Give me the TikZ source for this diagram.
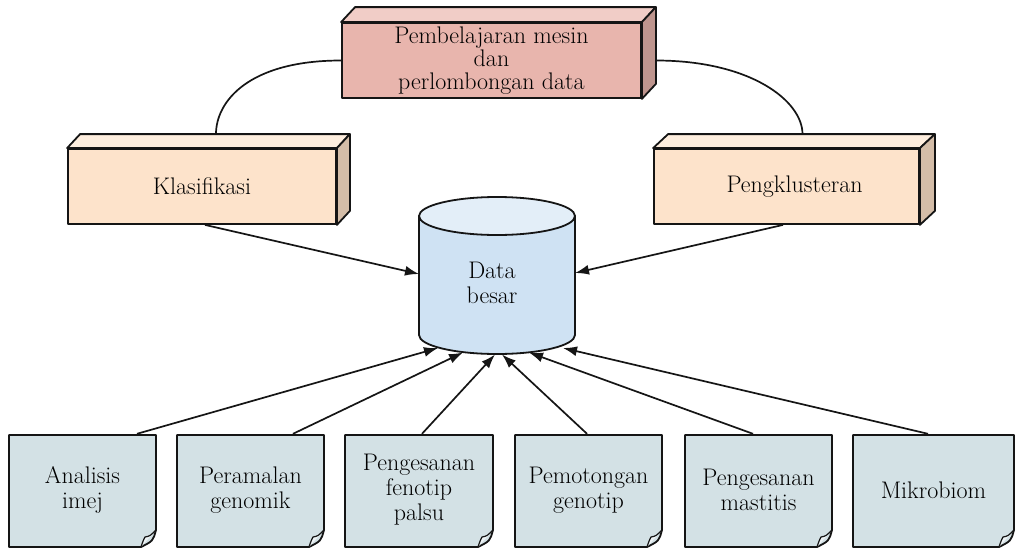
\documentclass[tikz,border=0pt]{standalone}
\usetikzlibrary{arrows.meta}
\definecolor{pinkfront}{HTML}{E8B5AD}
\definecolor{pinktop}{HTML}{F1CDC7}
\definecolor{pinkside}{HTML}{BE958E}
\definecolor{peachfront}{HTML}{FDE3CB}
\definecolor{peachtop}{HTML}{FEEEDE}
\definecolor{peachside}{HTML}{D4BDA8}
\definecolor{cylbody}{HTML}{CFE2F3}
\definecolor{cyltop}{HTML}{E3EEF8}
\definecolor{notefill}{HTML}{D3E1E5}
\definecolor{notecurl}{HTML}{EEF3F5}
\definecolor{lineblack}{HTML}{151515}
\tikzset{
  edge/.style={draw=lineblack, line width=1.8pt, line join=round},
  cuboid/.style={edge, inner sep=0pt, align=center, font=\fontsize{24}{23}\selectfont},
  notebox/.style={edge, fill=notefill},
  notelabel/.style={inner sep=0pt, align=center, font=\fontsize{24}{25}\selectfont},
  arr/.style={draw=lineblack, line width=1.7pt, -{Latex[length=14pt,width=10pt]}},
  link/.style={draw=lineblack, line width=1.7pt}
}
\newcommand\cuboidfaces[5]{%
  \filldraw[edge, fill=#4] (#1.north west) -- ++(#2,-#3) -- ([shift={(#2,-#3)}]#1.north east) -- (#1.north east) -- cycle;
  \filldraw[edge, fill=#5] (#1.north east) -- ([shift={(#2,-#3)}]#1.north east) -- ([shift={(#2,-#3)}]#1.south east) -- (#1.south east) -- cycle;
}
\newcommand\notecard[4]{%
  \filldraw[notebox] (#2,435) -- (#3,435) -- (#3,530) .. controls ({#3-3},541) .. ({#3-15},547) -- (#2,547) -- cycle;
  \filldraw[edge, line width=1.2pt, fill=notecurl] ({#3-15},547) .. controls ({#3-13},541) .. ({#3-11},537) .. controls ({#3-6},536) .. (#3,530);
  \node[notelabel, minimum width={(#3-#2)*1pt}, minimum height=112pt] (#1) at ({(#2+#3)/2},490) {#4};
}
\begin{document}
\begin{tikzpicture}[x=1pt,y=-1pt]
\useasboundingbox (0,0) rectangle (1021,549);
\fill[white] (0,0) rectangle (1021,549);

% upper boxes
\node[cuboid, fill=pinkfront, minimum width=299pt, minimum height=75pt] (ml) at (491.5,60.5) {Pembelajaran mesin\\dan\\perlombongan data};
\node[cuboid, fill=peachfront, minimum width=268pt, minimum height=75pt] (klas) at (202,186.5) {Klasifikasi};
\node[cuboid, fill=peachfront, minimum width=265pt, minimum height=75pt] (peng) at (786.5,186.5) {\hspace*{16pt}Pengklusteran};

% arcs
\draw[link] (ml.west) .. controls +(-92,0) and +(0,-33) .. ([shift={(14,-14)}]klas.north);
\draw[link] ([xshift=14pt]ml.east) .. controls +(95,0) and +(0,-33) .. ([shift={(16,-14)}]peng.north);

\cuboidfaces{ml}{14}{15}{pinktop}{pinkside}
\cuboidfaces{klas}{13}{14}{peachtop}{peachside}
\cuboidfaces{peng}{15}{14}{peachtop}{peachside}

% cylinder
\filldraw[edge, fill=cylbody] (419,216) -- (419,335) arc[start angle=180, end angle=360, x radius=78pt, y radius=19pt] -- (575,216) -- cycle;
\filldraw[edge, fill=cyltop] (497,216) ellipse[x radius=78pt, y radius=19pt];
\node[notelabel] (db) at (492,283) {Data\\besar};
\coordinate (dbL) at (419,274);
\coordinate (dbR) at (575,273);
\coordinate (e1) at (438,348);
\coordinate (e2) at (463,352.5);
\coordinate (e3) at (495,354.5);
\coordinate (e4) at (502,354.5);
\coordinate (e5) at (529,352.5);
\coordinate (e6) at (563,348);

\draw[arr] ([xshift=3pt]klas.south) -- (dbL);
\draw[arr] ([xshift=-3.5pt]peng.south) -- (dbR);

% note cards
\notecard{b1}{9}{156}{Analisis\\imej}
\notecard{b2}{177}{324}{Peramalan\\genomik}
\notecard{b3}{345}{493}{Pengesanan\\fenotip\\palsu}
\notecard{b4}{515}{662}{Pemotongan\\genotip}
\notecard{b5}{685}{832}{Pengesanan\\mastitis}
\notecard{b6}{853}{1014}{Mikrobiom}

\draw[arr] ([xshift=54.5pt]b1.north) -- (e1);
\draw[arr] ([xshift=42.5pt]b2.north) -- (e2);
\draw[arr] ([xshift=3pt]b3.north) -- (e3);
\draw[arr] ([xshift=-1.5pt]b4.north) -- (e4);
\draw[arr] ([xshift=-5.5pt]b5.north) -- (e5);
\draw[arr] ([xshift=-5.5pt]b6.north) -- (e6);
\end{tikzpicture}
\end{document}
